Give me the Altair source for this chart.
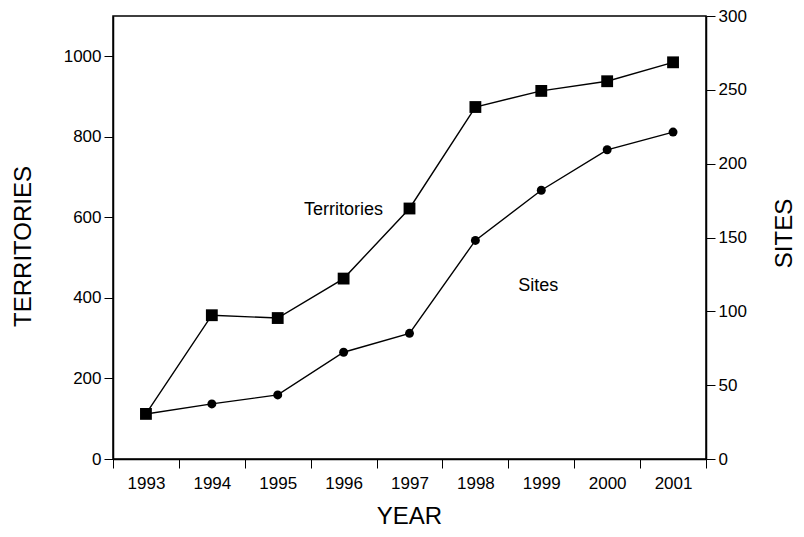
import altair as alt
import pandas as pd

years = ["1993", "1994", "1995", "1996", "1997", "1998", "1999", "2000", "2001"]
territories = [112, 357, 350, 448, 622, 874, 914, 938, 985]
sites = [30.5, 37.3, 43.4, 72.3, 85.1, 148, 182, 209.4, 221.4]

label_text = ["Territories", "Sites"]
label_year = ["1996", "1999"]
label_value = [618, 117]

FONT = "Liberation Sans"

df_t = pd.DataFrame({"year": years, "value": territories})
df_s = pd.DataFrame({"year": years, "value": sites})
df_lt = pd.DataFrame({"year": [label_year[0]], "value": [label_value[0]], "txt": [label_text[0]]})
df_ls = pd.DataFrame({"year": [label_year[1]], "value": [label_value[1]], "txt": [label_text[1]]})

common_axis = dict(
    grid=False, domainColor="black", domainWidth=1.5, tickColor="black", tickWidth=1,
    labelColor="black", labelFont=FONT, labelFontSize=17, titleColor="black",
    titleFont=FONT, titleFontSize=24, titleFontWeight="normal",
)

x_enc = alt.X(
    "year:O",
    scale=alt.Scale(paddingInner=0, paddingOuter=0),
    axis=alt.Axis(
        title="YEAR", labelAngle=0, tickBand="extent", tickSize=9, labelPadding=7,
        titleX=296, titleY=57, titleBaseline="middle", titleAlign="center",
        **common_axis,
    ),
)

y_left_scale = alt.Scale(domain=[0, 1100], nice=False)
y_right_scale = alt.Scale(domain=[0, 300], nice=False)

y_left = alt.Y(
    "value:Q", scale=y_left_scale,
    axis=alt.Axis(
        title="TERRITORIES", values=[0, 200, 400, 600, 800, 1000], orient="left", format="d",
        tickSize=9, labelPadding=3, titleAngle=270, titleX=-90, titleY=230,
        titleBaseline="middle", titleAlign="center", **common_axis,
    ),
)
y_right = alt.Y(
    "value:Q", scale=y_right_scale,
    axis=alt.Axis(
        title="SITES", values=[0, 50, 100, 150, 200, 250, 300], orient="right", format="d",
        tickSize=9, labelPadding=3, titleAngle=270, titleX=78, titleY=217,
        titleBaseline="middle", titleAlign="center", **common_axis,
    ),
)

terr_line = alt.Chart(df_t).mark_line(color="black", strokeWidth=1.4).encode(x=x_enc, y=y_left)
terr_pts = alt.Chart(df_t).mark_point(shape="square", filled=True, color="black", size=140, opacity=1).encode(x=x_enc, y=y_left)
terr_lab = alt.Chart(df_lt).mark_text(font=FONT, fontSize=18, color="black", baseline="middle").encode(
    x=x_enc, y=y_left, text="txt:N")

site_line = alt.Chart(df_s).mark_line(color="black", strokeWidth=1.4).encode(x=x_enc, y=y_right)
site_pts = alt.Chart(df_s).mark_point(shape="circle", filled=True, color="black", size=80, opacity=1).encode(x=x_enc, y=y_right)
site_lab = alt.Chart(df_ls).mark_text(font=FONT, fontSize=18, color="black", baseline="middle", dx=-3).encode(
    x=x_enc, y=y_right, text="txt:N")

left = alt.layer(terr_line, terr_pts, terr_lab)
right = alt.layer(site_line, site_pts, site_lab)

chart = alt.layer(left, right).resolve_scale(y="independent").properties(
    width=593, height=443,
    background="white",
    autosize=alt.AutoSizeParams(type="none"),
    padding={"left": 105, "top": 8, "right": 90, "bottom": 70},
).configure_view(
    stroke="black", strokeWidth=1.5
)

chart.save("out.html", embed_options={"renderer": "svg", "actions": False})
